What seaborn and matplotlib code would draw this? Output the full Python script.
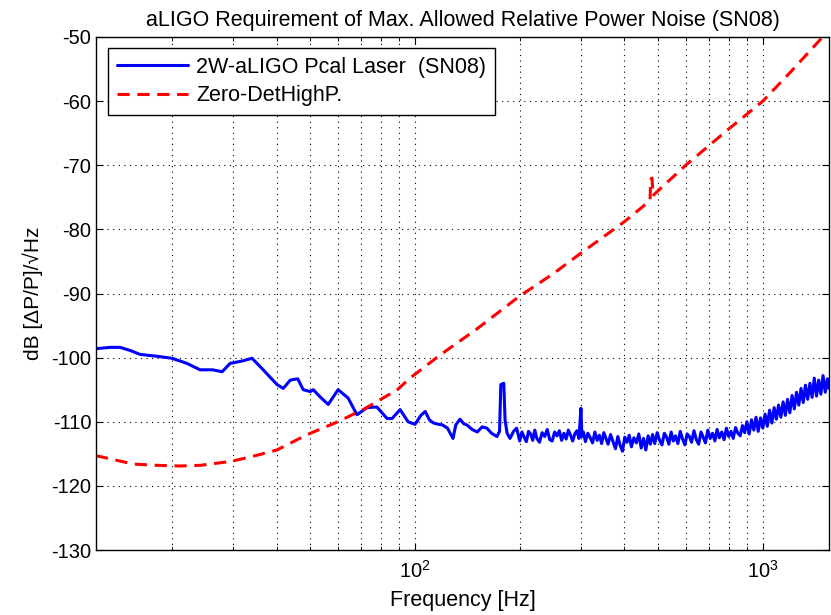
import numpy as np
import pandas as pd
import matplotlib
matplotlib.use("Agg")
import matplotlib.pyplot as plt
import seaborn as sns
from matplotlib.ticker import NullFormatter

# 2W-aLIGO Pcal laser relative power noise
freq_laser = [12.1, 13.3, 14.2, 15.2, 16.2, 18.2, 20.0, 22.1, 24.1, 26.2,
              27.9, 29.4, 32.0, 34.0, 36.6, 40.1, 41.8, 43.8, 46.0, 47.7,
              50.0, 51.0, 53.3, 56.3, 60.1, 64.2, 68.1, 72.8, 77.7, 83.1,
              85.9, 90.6, 95.5, 100.0, 104.0, 107.0, 110.0, 113.0, 117.0, 120.0,
              124.0, 128.6, 131.0, 134.7, 138.0, 141.0, 146.0, 151.0, 156.0, 161.0,
              166.0, 172.0, 175.0, 176.5, 180.0, 181.5, 184.0, 187.6, 192.0, 196.0,
              200, 203, 206, 209, 212, 215, 218, 221, 224, 228,
              232, 236, 240, 244, 248, 252, 256, 260, 264, 268,
              272, 276, 280, 284, 288, 292, 296, 300, 302, 305,
              309, 314, 319, 324, 329, 334, 339, 344, 349, 354,
              359, 365, 371, 377, 383, 389, 395, 401, 407, 413,
              419, 426, 433, 440, 447, 454, 461, 468, 475, 482,
              489, 497, 505, 513, 521, 529, 537, 545, 553, 561,
              570, 579, 588, 597, 606, 615, 624, 634, 644, 654,
              664, 674, 684, 695, 706, 717, 728, 739, 750, 762,
              774, 786, 798, 810, 822, 835, 848, 861, 874, 887,
              900, 914, 928, 942, 956, 970, 985, 1000, 1015, 1030,
              1046, 1062, 1078, 1094, 1110, 1127, 1144, 1161, 1178, 1196,
              1214, 1232, 1250, 1269, 1288, 1307, 1326, 1346, 1366, 1386,
              1406, 1427, 1448, 1469, 1490, 1512, 1534, 1550]
db_laser = [-98.6, -98.4, -98.4, -98.9, -99.5, -99.8, -100.1, -100.9, -101.9, -101.9,
            -102.2, -100.9, -100.5, -100.1, -101.9, -104.2, -104.8, -103.5, -103.3, -105.0,
            -105.3, -105.0, -106.1, -107.3, -105.0, -106.3, -108.9, -107.8, -107.7, -109.5,
            -109.5, -108.1, -110.0, -110.4, -109.0, -108.4, -109.7, -110.2, -110.4, -110.5,
            -111.0, -112.6, -110.5, -109.6, -110.3, -110.5, -111.2, -111.6, -110.8, -111.0,
            -111.8, -112.3, -111.5, -104.2, -104.0, -109.7, -111.8, -112.6, -111.5, -111.0,
            -113.0, -111.6, -112.4, -113.1, -111.5, -111.9, -112.9, -111.3, -112.6, -113.2,
            -111.7, -112.3, -111.2, -112.8, -113.0, -111.6, -112.2, -111.4, -112.9, -111.8,
            -112.7, -111.3, -112.1, -113.0, -111.9, -111.4, -112.6, -107.9, -112.3, -111.6,
            -113.1, -111.8, -112.5, -113.3, -111.6, -112.9, -112.1, -113.4, -111.7, -112.6,
            -113.5, -112.0, -113.1, -114.2, -112.3, -113.7, -114.6, -112.4, -113.2, -112.1,
            -113.9, -112.5, -113.3, -111.9, -114.1, -112.6, -114.4, -112.2, -113.5, -112.0,
            -113.4, -111.7, -112.9, -113.6, -111.8, -112.4, -113.5, -111.6, -113.0, -112.2,
            -113.4, -111.5, -112.7, -113.6, -111.9, -112.3, -113.2, -111.4, -112.8, -113.5,
            -111.6, -112.4, -113.3, -111.3, -112.6, -111.8, -113.0, -111.2, -112.5, -111.6,
            -112.8, -111.0, -112.3, -111.5, -112.6, -110.9, -111.8, -112.2, -110.6, -111.7,
            -110.0, -111.9, -109.7, -111.3, -109.3, -111.5, -109.4, -111.0, -108.8, -110.7,
            -108.2, -110.2, -107.8, -109.6, -107.4, -109.3, -106.9, -109.0, -106.5, -108.6,
            -105.9, -108.0, -105.4, -107.4, -104.8, -107.0, -104.3, -106.5, -104.0, -106.2,
            -103.2, -106.0, -103.5, -105.7, -102.8, -105.4, -103.3, -104.8]

# Zero-Det High Power requirement
freq_req = [12.1, 12.6, 15.5, 18.2, 21.1, 24.1, 29.4, 33.6, 40.1, 49.0,
            60.0, 71.5, 89.0, 96.7, 100.0, 118.0, 150.0, 200.0, 250.0, 300.0,
            400.0, 460.0, 474.0, 476.0, 480.0, 484.0, 486.0, 600.0, 800.0, 1000.0,
            1200.0, 1486.0, 1550.0]
db_req = [-115.3, -115.5, -116.6, -116.8, -116.9, -116.8, -116.2, -115.5, -114.4, -112.0,
          -110.0, -108.0, -105.0, -103.2, -102.6, -99.6, -95.6, -90.4, -86.9, -83.7,
          -78.8, -76.1, -75.5, -72.2, -72.0, -74.8, -74.6, -70.0, -64.3, -60.0,
          -55.5, -50.0, -48.9]

laser = pd.DataFrame({"freq": freq_laser, "db": db_laser})
req = pd.DataFrame({"freq": freq_req, "db": db_req})

sns.set_style("ticks", {"axes.edgecolor": "black", "xtick.color": "black",
                        "ytick.color": "black", "text.color": "black",
                        "axes.labelcolor": "black",
                        "xtick.direction": "in", "ytick.direction": "in"})
plt.rcParams["font.family"] = ["Liberation Sans", "DejaVu Sans"]
plt.rcParams["axes.unicode_minus"] = False

fig = plt.figure(figsize=(8.31, 6.15), dpi=100)
ax = fig.add_axes([96 / 831, 1 - 550 / 615, (829 - 96) / 831, (550 - 37) / 615])
ax.set_xscale("log")

sns.lineplot(data=laser, x="freq", y="db", ax=ax, color="#0000ff", lw=2.2,
             estimator=None, sort=False, label="2W-aLIGO Pcal Laser  (SN08)")
sns.lineplot(data=req, x="freq", y="db", ax=ax, color="#ff0000", lw=2.2,
             linestyle=(0, (4, 2.5)), estimator=None, sort=False,
             label="Zero-DetHighP.")

ax.set_xlim(12.1, 1550)
ax.set_ylim(-130, -50)
ax.set_yticks(np.arange(-130, -49, 10))
ax.xaxis.set_minor_formatter(NullFormatter())

ax.grid(True, which="major", color="black", linestyle=(0, (1, 4)), linewidth=0.8)
ax.grid(True, which="minor", axis="x", color="black", linestyle=(0, (1, 4)), linewidth=0.8)
ax.tick_params(which="both", direction="in", top=True, right=True, labelsize=14.5)
ax.tick_params(axis="x", which="major", pad=7)
ax.tick_params(which="major", length=5)
ax.tick_params(which="minor", length=3)
for s in ax.spines.values():
    s.set_linewidth(1.0)
    s.set_color("black")

ax.set_title("aLIGO Requirement of Max. Allowed Relative Power Noise (SN08)", fontsize=15.5, pad=8)
ax.set_xlabel("Frequency [Hz]", fontsize=15.5, labelpad=6)
ax.set_ylabel("dB [ΔP/P]/√Hz", fontsize=15, labelpad=6)

leg = ax.legend(loc="upper left", bbox_to_anchor=(12 / 733, 1 - 11 / 513), borderaxespad=0,
                fontsize=15.5, handlelength=3.3, handletextpad=0.4, labelspacing=0.35,
                frameon=True, fancybox=False, framealpha=1, edgecolor="black")
leg.get_frame().set_linewidth(1.0)

fig.savefig("out.png", dpi=100)
